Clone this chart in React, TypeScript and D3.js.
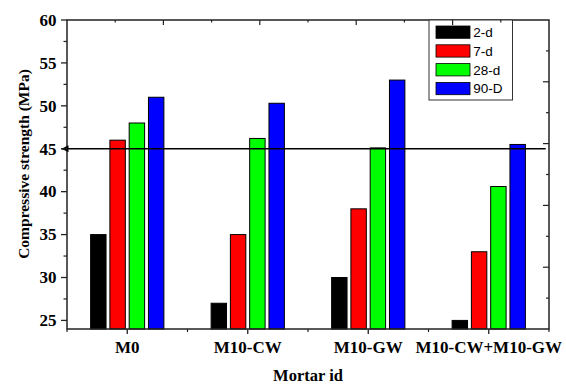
import React from "react";
import * as d3 from "d3";

const categories = ["M0", "M10-CW", "M10-GW", "M10-CW+M10-GW"];
const seriesNames = ["2-d", "7-d", "28-d", "90-D"];
const seriesColors = ["#000000", "#ff0000", "#00ff00", "#0000ff"];
const values2d = [35, 27, 30, 25];
const values7d = [46, 35, 38, 33];
const values28d = [48, 46.2, 45.1, 40.6];
const values90d = [51, 50.3, 53, 45.5];
const yTicks = [25, 30, 35, 40, 45, 50, 55, 60];
const refValue = 45;

const W = 566;
const H = 385;
const L = 67, R = 549, T = 20, B = 329;

export default function App() {
  const x = d3.scaleLinear().domain([-0.5, 3.5]).range([L, R]);
  const y = d3.scaleLinear().domain([24, 60]).range([B, T]);
  const series = [values2d, values7d, values28d, values90d];
  const step = 0.16;
  const bw = 0.128;
  const unit = x(1) - x(0);
  const font = "'Liberation Serif', 'Times New Roman', serif";
  const axisColor = "#222";

  const minorY = d3.range(27.5, 60, 5);
  const rightTicks = d3.range(1, 10).map((k) => ({ v: 24 + 3.6 * k, long: k % 2 === 0 }));
  const topTicks = d3.range(1, 10).map((k) => ({ v: -0.5 + 0.4 * k, long: k % 2 === 0 }));
  const minorX = [-0.5, 0.5, 1.5, 2.5, 3.5];

  return (
    <svg width={W} height={H} style={{ position: "absolute", left: 0, top: 0 }}>
      <defs>
        <marker id="arr" viewBox="0 0 10 10" refX="0" refY="5" markerWidth="10" markerHeight="7" markerUnits="userSpaceOnUse" orient="auto">
          <path d="M10,0 L0,5 L10,10 Z" fill="#000" />
        </marker>
      </defs>
      <rect x={0} y={0} width={W} height={H} fill="#fff" />
      {/* bars */}
      {series.map((vals, si) =>
        vals.map((v, ci) => {
          const cx = x(ci + (si - 1.5) * step);
          return (
            <rect
              key={`${si}-${ci}`}
              x={cx - (bw * unit) / 2}
              y={y(v)}
              width={bw * unit}
              height={B - y(v)}
              fill={seriesColors[si]}
              stroke="#000"
              strokeWidth={1}
            />
          );
        })
      )}
      {/* frame */}
      <rect x={L} y={T} width={R - L} height={B - T} fill="none" stroke={axisColor} strokeWidth={1.5} />
      {/* reference line */}
      <line x1={x(-0.5) - 5.5} y1={y(refValue)} x2={545.7} y2={y(refValue)} stroke="#000" strokeWidth={1.3} markerStart="url(#arr)" />
      {/* left ticks */}
      {yTicks.map((t) => (
        <g key={`yt${t}`}>
          <line x1={L - 6} x2={L} y1={y(t)} y2={y(t)} stroke={axisColor} strokeWidth={1.3} />
          <text x={56.5} y={y(t) + 5.8} textAnchor="end" fontFamily={font} fontWeight="bold" fontSize={17}>
            {t}
          </text>
        </g>
      ))}
      {minorY.map((t) => (
        <line key={`ym${t}`} x1={L - 3.5} x2={L} y1={y(t)} y2={y(t)} stroke={axisColor} strokeWidth={1.2} />
      ))}
      {/* right ticks */}
      {rightTicks.map((t, i) => (
        <line key={`rt${i}`} x1={R - (t.long ? 6 : 3)} x2={R} y1={y(t.v)} y2={y(t.v)} stroke={axisColor} strokeWidth={1.2} />
      ))}
      {/* top ticks */}
      {topTicks.map((t, i) => (
        <line key={`tt${i}`} x1={x(t.v)} x2={x(t.v)} y1={T} y2={T + (t.long ? 5 : 2.5)} stroke={axisColor} strokeWidth={1.2} />
      ))}
      {/* bottom ticks */}
      {categories.map((c, i) => (
        <g key={`xc${i}`}>
          <line x1={x(i)} x2={x(i)} y1={B} y2={B + 5} stroke={axisColor} strokeWidth={1.3} />
          <text x={x(i)} y={352.7} textAnchor="middle" fontFamily={font} fontWeight="bold" fontSize={17}>
            {c}
          </text>
        </g>
      ))}
      {minorX.map((v, i) => (
        <line key={`xm${i}`} x1={x(v)} x2={x(v)} y1={B} y2={B + 3} stroke={axisColor} strokeWidth={1.2} />
      ))}
      {/* axis titles */}
      <text x={(L + R) / 2} y={380.5} textAnchor="middle" fontFamily={font} fontWeight="bold" fontSize={16.5}>
        Mortar id
      </text>
      <text
        transform={`translate(29,164) rotate(-90)`}
        textAnchor="middle"
        fontFamily={font}
        fontWeight="bold"
        fontSize={15.5}
      >
        Compressive strength (MPa)
      </text>
      {/* legend */}
      <rect x={429} y={T} width={83.5} height={80} fill="#fff" stroke="#333" strokeWidth={1} />
      {topTicks
        .filter((t) => x(t.v) > 429 && x(t.v) < 512.5)
        .map((t, i) => (
          <line key={`lt${i}`} x1={x(t.v)} x2={x(t.v)} y1={T} y2={T + (t.long ? 5 : 2.5)} stroke={axisColor} strokeWidth={1.2} />
        ))}
      {seriesNames.map((n, i) => (
        <g key={`lg${i}`}>
          <rect x={436} y={26 + i * 18.8} width={34} height={12.3} fill={seriesColors[i]} stroke="#000" strokeWidth={0.8} />
          <text x={473.3} y={37 + i * 18.8} fontFamily="'Liberation Sans', Arial, sans-serif" fontSize={13.5}>
            {n}
          </text>
        </g>
      ))}
    </svg>
  );
}
